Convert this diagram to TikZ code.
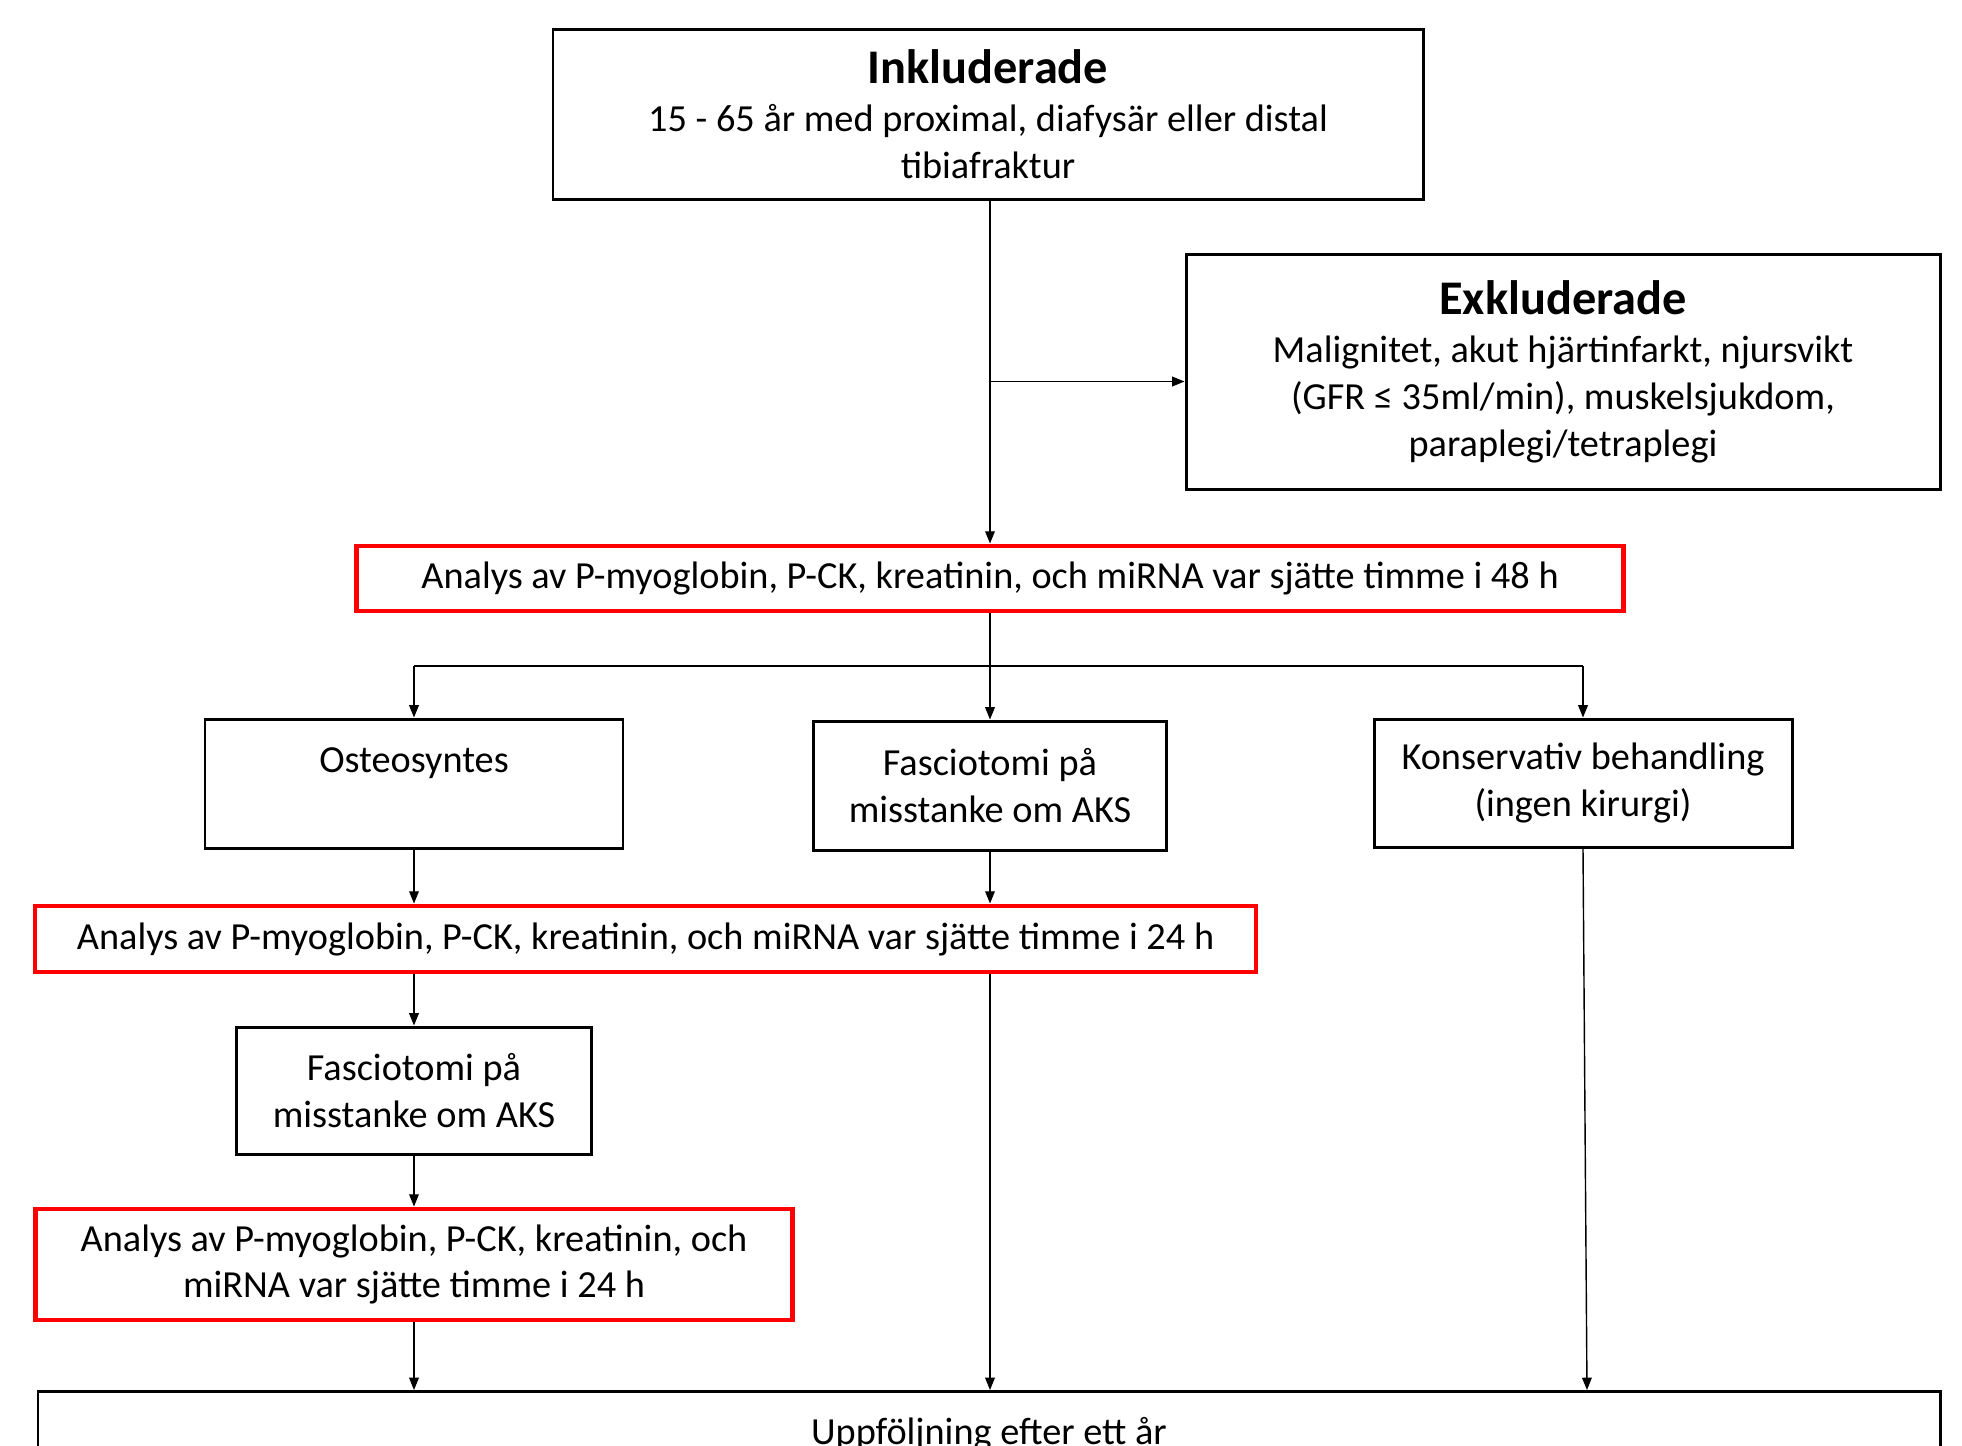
\documentclass[tikz,border=0pt]{standalone}
\usepackage{fontspec}
\setmainfont{Carlito}
\usepackage{tikz}
\usetikzlibrary{calc,arrows.meta}
\newcommand{\bodyfont}{\fontsize{21.8}{26.6}\selectfont}
\newcommand{\headfont}{\fontsize{27.5}{31}\selectfont\bfseries}
\tikzset{
  plainbox/.style={draw=black, line width=1.7pt, align=center, inner sep=0pt, font=\bodyfont},
  redbox/.style={draw=red, line width=2.8pt, align=center, inner sep=0pt, font=\bodyfont},
  arr/.style={line width=0.8pt, -{Triangle[length=7pt,width=5.5pt]}},
  link/.style={line width=0.8pt}
}

\begin{document}
\begin{tikzpicture}[x=0.02cm, y=-0.02cm]
		%%%%% START %%%%%
		\useasboundingbox (0, 0) rectangle (1962, 1445);
		
		\node[plainbox, minimum width=870*0.02cm, minimum height=170*0.02cm] (incl) at (988, 114)
			{{\headfont Inkluderade}\\[1pt]15 - 65 år med proximal, diafysär eller distal\\tibiafraktur};
		\node[plainbox, minimum width=754*0.02cm, minimum height=235*0.02cm] (excl) at (1563, 371.5)
			{{\headfont Exkluderade}\\[1pt]Malignitet, akut hjärtinfarkt, njursvikt\\(GFR ≤ 35ml/min), muskelsjukdom,\\paraplegi/tetraplegi};
		
		\node[redbox, minimum width=1267*0.02cm, minimum height=65*0.02cm] (an48) at (990, 578.5)
			{Analys av P-myoglobin, P-CK, kreatinin, och miRNA var sjätte timme i 48 h};
		\coordinate (split) at (990, 666);
		
		\node[plainbox, minimum width=418*0.02cm, minimum height=129*0.02cm] (oste) at (414, 783.5)
			{Osteosyntes\\\mbox{}};
		\node[plainbox, minimum width=353*0.02cm, minimum height=129*0.02cm] (fasc1) at (990, 785.5)
			{Fasciotomi på\\misstanke om AKS};
		\node[plainbox, minimum width=418*0.02cm, minimum height=128*0.02cm] (kons) at (1583, 783)
			{Konservativ behandling\\(ingen kirurgi)};
		
		\node[redbox, minimum width=1221*0.02cm, minimum height=66*0.02cm] (an24) at (645.5, 939)
			{Analys av P-myoglobin, P-CK, kreatinin, och miRNA var sjätte timme i 24 h};
		
		\node[plainbox, minimum width=355*0.02cm, minimum height=127*0.02cm] (fasc2) at (414, 1090.5)
			{Fasciotomi på\\misstanke om AKS};
		\node[redbox, minimum width=757*0.02cm, minimum height=111*0.02cm] (an24b) at (414, 1264.5)
			{Analys av P-myoglobin, P-CK, kreatinin, och\\miRNA var sjätte timme i 24 h};
		
		\node[plainbox, anchor=north, minimum width=1902*0.02cm, text height=1.05cm, text depth=2cm] (follow) at (989, 1390)
			{Uppföljning efter ett år};
		
		% top part
		\draw[arr] (incl.south -| an48.north) -- (an48.north);
		\draw[arr] ($(incl.south -| an48.north)!(excl.west)!(an48.north)+(0, 10)$) -- ($(excl.west)+(0, 10)$);
		
		% split in three
		\draw[link] (split -| oste.north) -- (split -| kons.north);
		\draw[arr] (an48.south) -- (fasc1.north);
		\draw[arr] (split -| oste.north) -- (oste.north);
		\draw[arr] (split -| kons.north) -- (kons.north);
		
		\draw[arr] (oste.south) -- (oste.south |- an24.north);
		\draw[arr] (fasc1.south) -- (fasc1.south |- an24.north);
		\draw[arr] (fasc2.north |- an24.south) -- (fasc2.north);
		\draw[arr] (fasc2.south) -- (an24b.north);
		
		% to follow-up
		\draw[arr] (an24b.south) -- (an24b.south |- follow.north);
		\draw[arr] (fasc1.south |- an24.south) -- (fasc1.south |- follow.north);
		\draw[arr] (kons.south) -- ($(kons.south |- follow.north)+(4, 0)$);
		
		%%%%% END %%%%%
\end{tikzpicture}
\end{document}
